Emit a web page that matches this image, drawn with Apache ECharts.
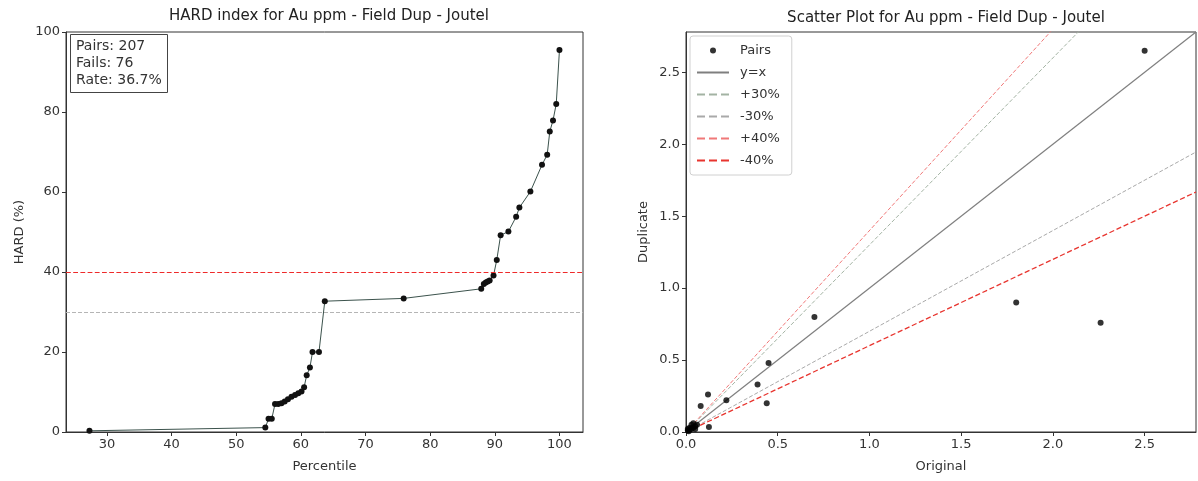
<!DOCTYPE html>
<html>
<head>
<meta charset="utf-8">
<script src="https://cdn.jsdelivr.net/npm/echarts@6/dist/echarts.min.js"></script>
<style>
html,body{margin:0;padding:0;background:#fff;}
#chart{width:1198px;height:481px;}
</style>
</head>
<body>
<div id="chart"></div>
<script>
// ---- Data ----
const hardPercentile = [27.3, 54.5, 55.0, 55.5, 56.0, 56.5, 57.0, 57.5, 58.0, 58.55, 59.1, 59.6, 60.1, 60.5, 60.9, 61.4, 61.8, 62.8, 63.7, 75.9, 87.9, 88.3, 88.6, 88.9, 89.2, 89.8, 90.3, 90.9, 92.1, 93.3, 93.8, 95.5, 97.3, 98.1, 98.5, 99.0, 99.5, 100.0];
const hardValue = [0.3, 1.1, 3.3, 3.3, 7.0, 7.0, 7.2, 7.6, 8.2, 8.8, 9.25, 9.7, 10.1, 11.2, 14.2, 16.1, 20.0, 20.0, 32.7, 33.4, 35.8, 37.0, 37.4, 37.6, 37.9, 39.1, 43.0, 49.2, 50.1, 53.8, 56.1, 60.1, 66.8, 69.3, 75.1, 77.9, 82.0, 95.5];
const hardThresholds = [30, 40];
const hardXTicks = [30, 40, 50, 60, 70, 80, 90, 100];
const hardYTicks = [0, 20, 40, 60, 80, 100];
const statsLines = ['Pairs: 207', 'Fails: 76', 'Rate: 36.7%'];

const scatterOriginal = [0.01, 0.02, 0.03, 0.02, 0.04, 0.05, 0.03, 0.06, 0.01, 0.015, 0.05, 0.04, 0.125, 0.08, 0.12, 0.22, 0.39, 0.44, 0.45, 0.70, 1.80, 2.26, 2.50];
const scatterDuplicate = [0.01, 0.015, 0.02, 0.03, 0.03, 0.04, 0.05, 0.05, 0.02, 0.005, 0.02, 0.06, 0.035, 0.18, 0.26, 0.22, 0.33, 0.20, 0.48, 0.80, 0.90, 0.76, 2.65];
const scatterTicks = [0.0, 0.5, 1.0, 1.5, 2.0, 2.5];
const scatterMax = 2.78;
const refLineNames = ['y=x', '+30%', '-30%', '+40%', '-40%'];
const refLineSlopes = [1.0, 1.3, 0.7, 1.4, 0.6];
const refLineColors = ['#7f7f7f', '#a3b3a3', '#a9a9a9', '#f07878', '#e8352f'];
const refLineTypes = ['solid', 'dashed', 'dashed', 'dashed', 'dashed'];
const refLineWidths = [1.2, 1, 1, 1, 1.3];

// ---- Build ----
const hardData = hardPercentile.map((p, i) => [p, hardValue[i]]);
const scatterData = scatterOriginal.map((o, i) => [o, scatterDuplicate[i]]);

const font = 'DejaVu Sans, sans-serif';
const axisCommon = {
  axisLine: {show: true, lineStyle: {color: '#333', width: 1}},
  axisTick: {show: true, length: 4, lineStyle: {color: '#333'}},
  axisLabel: {color: '#333', fontSize: 13, fontFamily: font, margin: 6},
  splitLine: {show: false},
  nameTextStyle: {color: '#333', fontSize: 13, fontFamily: font},
};

const refSeries = refLineNames.map((name, i) => ({
  name: name,
  type: 'line',
  xAxisIndex: 1, yAxisIndex: 1,
  data: [[0, 0], [scatterMax, scatterMax * refLineSlopes[i]]],
  symbol: 'none',
  clip: true,
  silent: true,
  lineStyle: {color: refLineColors[i], type: refLineTypes[i], width: refLineWidths[i]},
  itemStyle: {color: refLineColors[i], opacity: 0},
  z: 2
}));

const legendData = [{name: 'Pairs'}].concat(refLineNames.map(n => ({name: n, itemStyle: {opacity: 0}})));

const chart = echarts.init(document.getElementById('chart'), null, {renderer: 'canvas'});
chart.setOption({
  animation: false,
  backgroundColor: '#fff',
  title: [
    {text: 'HARD index for Au ppm - Field Dup - Joutel', left: 324, top: 4, textAlign: 'center',
     textStyle: {fontSize: 15, fontWeight: 'normal', color: '#222', fontFamily: font}},
    {text: 'Scatter Plot for Au ppm - Field Dup - Joutel', left: 941, top: 6, textAlign: 'center',
     textStyle: {fontSize: 15, fontWeight: 'normal', color: '#222', fontFamily: font}},
    {text: statsLines.join('\n'), left: 70, top: 34, padding: [4, 6, 4, 6],
     borderColor: '#444', borderWidth: 1, backgroundColor: '#fff',
     textStyle: {fontSize: 14, fontWeight: 'normal', color: '#333', fontFamily: font, lineHeight: 17}}
  ],
  legend: {
    data: legendData,
    orient: 'vertical',
    left: 690, top: 36,
    itemWidth: 32, itemHeight: 6, itemGap: 9,
    padding: [8, 12, 8, 6],
    backgroundColor: '#fff',
    borderColor: '#d0d0d0', borderWidth: 1, borderRadius: 3,
    textStyle: {fontSize: 13, color: '#333', fontFamily: font, padding: [0, 0, 0, 6]},
  },
  grid: [
    {left: 66, top: 32, width: 517, height: 400, show: true, borderColor: '#333', borderWidth: 1, backgroundColor: 'transparent'},
    {left: 686, top: 32, width: 510, height: 400, show: true, borderColor: '#333', borderWidth: 1, backgroundColor: 'transparent'}
  ],
  xAxis: [
    Object.assign({}, axisCommon, {
      type: 'value', gridIndex: 0, min: 23.67, max: 103.64,
      name: 'Percentile', nameLocation: 'middle', nameGap: 28,
      axisTick: {show: true, length: 4, lineStyle: {color: '#333'}, customValues: hardXTicks},
      axisLabel: Object.assign({}, axisCommon.axisLabel, {customValues: hardXTicks})
    }),
    Object.assign({}, axisCommon, {
      type: 'value', gridIndex: 1, min: 0, max: scatterMax,
      name: 'Original', nameLocation: 'middle', nameGap: 28,
      axisTick: {show: true, length: 4, lineStyle: {color: '#333'}, customValues: scatterTicks},
      axisLabel: Object.assign({}, axisCommon.axisLabel, {customValues: scatterTicks, formatter: v => v.toFixed(1)})
    })
  ],
  yAxis: [
    Object.assign({}, axisCommon, {
      type: 'value', gridIndex: 0, min: 0, max: 100,
      name: 'HARD (%)', nameLocation: 'middle', nameGap: 40,
      axisTick: {show: true, length: 4, lineStyle: {color: '#333'}, customValues: hardYTicks},
      axisLabel: Object.assign({}, axisCommon.axisLabel, {customValues: hardYTicks})
    }),
    Object.assign({}, axisCommon, {
      type: 'value', gridIndex: 1, min: 0, max: scatterMax,
      name: 'Duplicate', nameLocation: 'middle', nameGap: 36,
      axisTick: {show: true, length: 4, lineStyle: {color: '#333'}, customValues: scatterTicks},
      axisLabel: Object.assign({}, axisCommon.axisLabel, {customValues: scatterTicks, formatter: v => v.toFixed(1)})
    })
  ],
  series: [
    {
      name: 'HARD',
      type: 'line',
      xAxisIndex: 0, yAxisIndex: 0,
      data: hardData,
      symbol: 'circle', symbolSize: 6,
      itemStyle: {color: '#111'},
      lineStyle: {color: '#3b524c', width: 1},
      markLine: {
        silent: true, symbol: 'none', label: {show: false},
        data: [
          {yAxis: hardThresholds[0], lineStyle: {color: '#b5b5b5', type: 'dashed', width: 1}},
          {yAxis: hardThresholds[1], lineStyle: {color: '#ee2a2a', type: 'dashed', width: 1.2}}
        ]
      },
      z: 3
    },
    {
      name: 'Pairs',
      type: 'scatter',
      xAxisIndex: 1, yAxisIndex: 1,
      data: scatterData,
      symbol: 'circle', symbolSize: 6,
      itemStyle: {color: '#000'},
      z: 5
    }
  ].concat(refSeries)
});
</script>
</body>
</html>
